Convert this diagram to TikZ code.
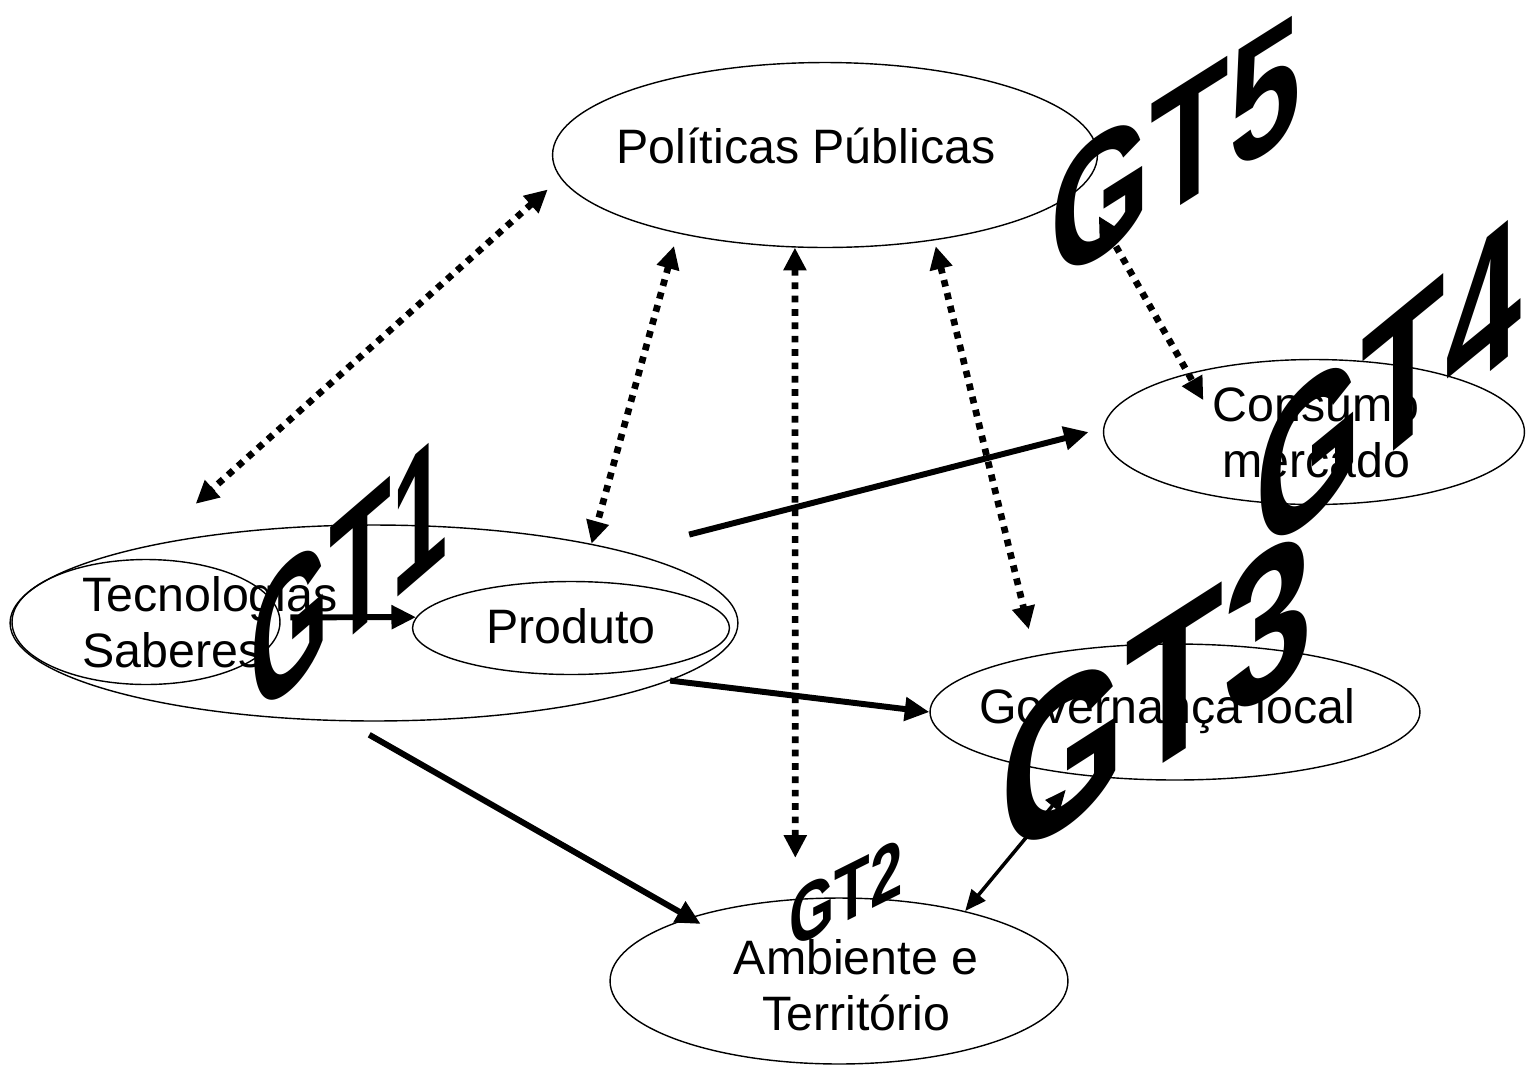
\documentclass[tikz,border=0pt]{standalone}
\usepackage{fontspec}
\setmainfont{Liberation Sans}
\usetikzlibrary{shapes.geometric,arrows.meta}

\tikzset{
  bolha/.style={draw, ellipse, line width=0.8pt, inner sep=0pt},
  rotulo/.style={inner sep=0pt, align=center, font=\fontsize{27.5}{32}\selectfont},
  pontilhada/.style={line width=3.8pt, dash pattern=on 3.8pt off 3.8pt, {Triangle[length=13pt,width=12.5pt]}-{Triangle[length=13pt,width=12.5pt]}},
  cheia/.style={line width=3.4pt, -{Triangle[length=14pt,width=13pt]}},
  fina/.style={line width=2pt, {Triangle[length=12pt,width=10pt]}-{Triangle[length=12pt,width=10pt]}},
  gt/.style={anchor=base west, inner sep=0pt}
}

\begin{document}
\begin{tikzpicture}[x=0.02cm, y=-0.02cm]

\useasboundingbox (0,0) rectangle (1526,1066);

% Draw the ellipses
\node[bolha, minimum width=10.9cm, minimum height=3.7cm] (politicas) at (825,155) {};
\node[bolha, minimum width=14.56cm, minimum height=3.92cm] (grupo) at (374,623) {};
\node[bolha, minimum width=5.36cm, minimum height=2.5cm] (tecnologias) at (146,622) {};
\node[bolha, minimum width=6.34cm, minimum height=1.86cm] (produto) at (571,628) {};
\node[bolha, minimum width=8.42cm, minimum height=2.9cm] (consumo) at (1314,432) {};
\node[bolha, minimum width=9.8cm, minimum height=2.72cm] (governanca) at (1175,712) {};
\node[bolha, minimum width=9.16cm, minimum height=3.32cm] (ambiente) at (839,981) {};

% Write the texts
\node[rotulo] (politicas-texto) at (806,146) {Políticas Públicas};
\node[rotulo, anchor=west, align=left] (tecnologias-texto) at (82,622) {Tecnologias\\Saberes};
\node[rotulo] (produto-texto) at (571,626) {Produto};
\node[rotulo] (consumo-texto) at (1316,433) {Consumo\\mercado};
\node[rotulo] (governanca-texto) at (1167,711) {Governança local};
\node[rotulo] (ambiente-texto) at (856,985) {Ambiente e\\Território};

% Draw the dotted arrows
\draw[pontilhada, shorten <=0.34cm, shorten >=1.66cm] (politicas.185) -- (tecnologias.101);
\draw[pontilhada, shorten <=0.26cm] (politicas.208) -- (grupo.20);
\draw[pontilhada, shorten >=0.82cm] (politicas.252) -- (ambiente.118);
\draw[pontilhada, shorten <=0.12cm, shorten >=0.54cm] (politicas.322) -- (governanca.158);
\draw[pontilhada, shorten <=0.68cm, shorten >=-0.62cm] (politicas.353) -- (consumo.155);

% Draw the solid arrows
\draw[cheia, shorten <=0.2cm] (tecnologias.2) -- (produto.176);
\draw[cheia, shorten <=1.34cm, shorten >=0.3cm] (grupo.16) -- (consumo.179);
\draw[cheia] (grupo.349) -- (governanca.west);
\draw[cheia, shorten <=0.54cm, shorten >=-0.26cm] (grupo.254) -- (ambiente.157);
\draw[fina, shorten <=0.38cm] (governanca.213) -- (ambiente.29);

% The GT labels
\node[gt, font=\bfseries\fontsize{105}{105}\selectfont, yslant=0.86, xscale=0.55] (gt1) at (250,724) {GT1};
\node[gt, font=\bfseries\fontsize{46}{46}\selectfont, yslant=0.5, xscale=0.72] (gt2) at (789,950) {GT2};
\node[gt, font=\bfseries\fontsize{119}{119}\selectfont, yslant=0.64, xscale=0.77] (gt3) at (1000,868) {GT3};
\node[gt, font=\bfseries\fontsize{113}{113}\selectfont, yslant=0.82, xscale=0.69] (gt4) at (1255,565) {GT4};
\node[gt, font=\bfseries\fontsize{99}{99}\selectfont, yslant=0.63, xscale=0.74] (gt5) at (1050,288) {GT5};

\end{tikzpicture}
\end{document}
